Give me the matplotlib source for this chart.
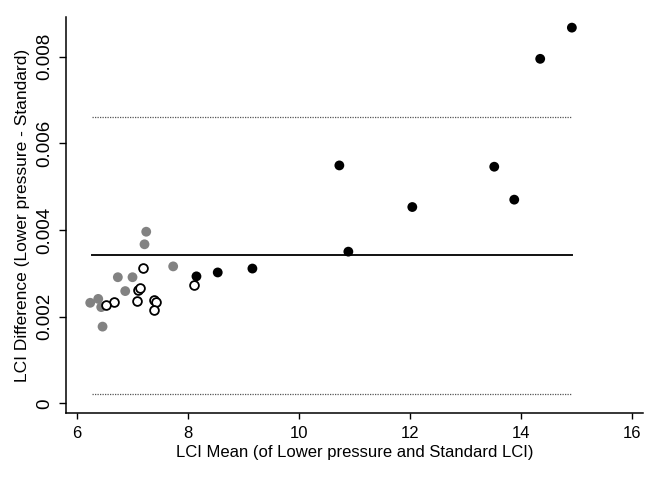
import numpy as np
import matplotlib
matplotlib.use("Agg")
import matplotlib.pyplot as plt

plt.rcParams['font.family'] = ['Liberation Sans', 'DejaVu Sans']

# Gray filled group
gray_x = [7.254, 7.223, 7.739, 6.743, 7.007, 6.876, 6.246, 6.390, 6.444, 6.468]
gray_y = [0.00396, 0.00367, 0.00316, 0.00291, 0.00291, 0.00259, 0.00232, 0.00241, 0.00222, 0.00177]

# Open circle group
open_x = [7.187, 8.110, 7.097, 7.138, 6.671, 6.527, 7.079, 7.385, 7.426, 7.385]
open_y = [0.00313, 0.00274, 0.00261, 0.00265, 0.00234, 0.00227, 0.00236, 0.00238, 0.00234, 0.00215]

# Black filled group
black_x = [8.158, 8.541, 9.165, 10.73, 13.518, 12.043, 13.878, 10.892, 14.915, 14.345]
black_y = [0.00293, 0.00302, 0.00311, 0.00549, 0.00546, 0.00453, 0.00470, 0.00350, 0.00867, 0.00795]

mean_diff = 0.003415
upper_loa = 0.006614
lower_loa = 0.000216

x_ticks = [6, 8, 10, 12, 14, 16]
y_ticks = [0, 0.002, 0.004, 0.006, 0.008]
y_tick_labels = ["0", "0.002", "0.004", "0.006", "0.008"]

fig = plt.figure(figsize=(6.6, 4.8), dpi=100)
ax = fig.add_axes([0.1, 0.139, 0.8738, 0.826])

all_x = np.array(gray_x + open_x + black_x)
xmin, xmax = all_x.min() + 0.03, all_x.max()

ax.plot([xmin, xmax], [upper_loa, upper_loa], color='#555555', lw=0.9, ls=(0, (1, 1.0)), zorder=1)
ax.plot([xmin, xmax], [lower_loa, lower_loa], color='#555555', lw=0.9, ls=(0, (1, 1.0)), zorder=1)
ax.plot([xmin, xmax], [mean_diff, mean_diff], color='#111111', lw=1.4, zorder=1)

ms = 50
ax.scatter(gray_x, gray_y, s=ms, color='#828282', edgecolors='none', zorder=3)
ax.scatter(open_x, open_y, s=ms * 0.8, facecolors='white', edgecolors='black', linewidths=1.3, zorder=3)
ax.scatter(black_x, black_y, s=ms, color='black', edgecolors='none', zorder=3)

ax.set_xlim(5.81, 16.19)
ax.set_ylim(-0.00023, 0.00892)
ax.set_xticks(x_ticks)
ax.set_xticklabels([str(t) for t in x_ticks])
ax.set_yticks(y_ticks)
ax.set_yticklabels(y_tick_labels, rotation=90, va='center')

for s in ['top', 'right']:
    ax.spines[s].set_visible(False)
for s in ['left', 'bottom']:
    ax.spines[s].set_linewidth(1.1)

ax.tick_params(axis='x', length=4, width=1.0, labelsize=12, pad=5)
ax.tick_params(axis='y', length=5, width=1.0, labelsize=13.5, pad=4)

ax.set_xlabel('LCI Mean (of Lower pressure and Standard LCI)', fontsize=12, labelpad=3)
ax.set_ylabel('LCI Difference (Lower pressure - Standard)', fontsize=12.5, labelpad=5)

fig.savefig('out.png', dpi=100)
